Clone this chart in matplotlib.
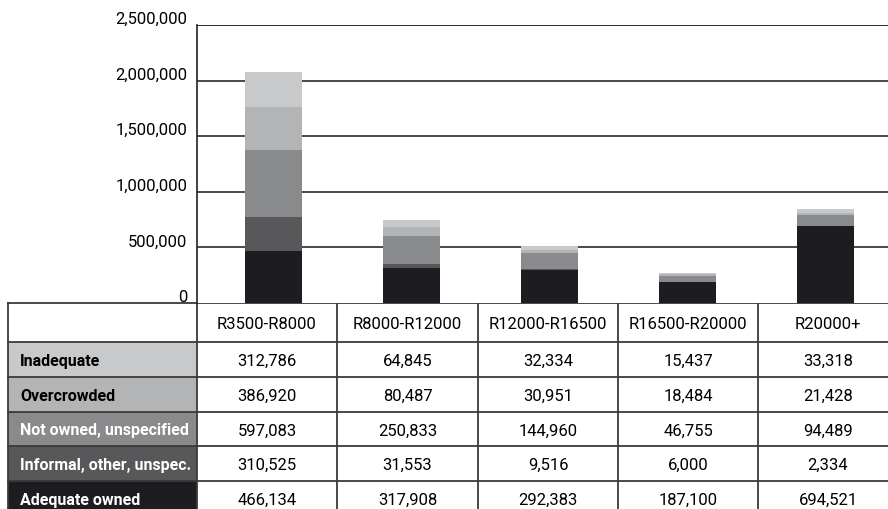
import numpy as np
import matplotlib.pyplot as plt
import matplotlib.transforms as mtransforms
from matplotlib.patches import Rectangle

plt.rcParams['font.family'] = ['Liberation Sans Narrow', 'Roboto', 'DejaVu Sans']

# income bands and housing categories
bands = ['R3500-R8000', 'R8000-R12000', 'R12000-R16500', 'R16500-R20000', 'R20000+']
inadequate = [312786, 64845, 32334, 15437, 33318]
overcrowded = [386920, 80487, 30951, 18484, 21428]
not_owned = [597083, 250833, 144960, 46755, 94489]
informal = [310525, 31553, 9516, 6000, 2334]
adequate_owned = [466134, 317908, 292383, 187100, 694521]

# stacking order, bottom first
series = [
    ('Adequate owned', adequate_owned, '#1d1c20', 'white'),
    ('Informal, other, unspec.', informal, '#58585a', 'white'),
    ('Not owned, unspecified', not_owned, '#898a8c', 'white'),
    ('Overcrowded', overcrowded, '#b3b4b6', 'black'),
    ('Inadequate', inadequate, '#c8c9cb', 'black'),
]
yticks = [0, 500000, 1000000, 1500000, 2000000, 2500000]

W, H = 888, 510
fig = plt.figure(figsize=(W / 100, H / 100), dpi=100)

# chart area
ax = fig.add_axes([197 / W, (H - 304) / H, (W - 197) / W, 278 / H])
x = np.arange(len(bands))
bottom = np.zeros(len(bands))
for name, vals, col, _ in series:
    ax.bar(x, vals, width=0.413, bottom=bottom, color=col, zorder=3)
    bottom += np.array(vals)
ax.set_xlim(-0.554, 4.453)
ax.set_ylim(0, 2500000)
ax.set_yticks(yticks)
ax.set_yticklabels([f'{v:,}' for v in yticks], fontsize=12)
ax.tick_params(axis='y', length=0, pad=7)
shift = mtransforms.ScaledTranslation(0, 2 / 100, fig.dpi_scale_trans)
for lbl in ax.get_yticklabels():
    lbl.set_verticalalignment('baseline')
    lbl.set_transform(lbl.get_transform() + shift)
ax.set_xticks([])
for v in yticks[1:]:
    ax.axhline(v, color='#1a1a1a' if v == 2500000 else '#3a3a3a', lw=1.3, zorder=1)
for s in ['top', 'right', 'bottom']:
    ax.spines[s].set_visible(False)
ax.spines['left'].set_color('#222222')
ax.spines['left'].set_linewidth(1.2)

# data table below the chart, drawn in pixel coordinates
tab = fig.add_axes([0, 0, 1, 1], zorder=-1)
tab.set_xlim(0, W)
tab.set_ylim(H, 0)
tab.axis('off')

col_edges = [8, 197, 337, 478, 618, 758, 898]
row_edges = [304, 343, 378, 413, 447, 482, 517]
rows = series[::-1]

for i, (name, vals, col, tcol) in enumerate(rows):
    y0, y1 = row_edges[i + 1], row_edges[i + 2]
    tab.add_patch(Rectangle((col_edges[0], y0), col_edges[1] - col_edges[0], y1 - y0,
                            facecolor=col, edgecolor='none'))
    tab.text(col_edges[0] + 12, (y0 + y1) / 2 + 1, name, color=tcol, fontsize=11.5,
             fontweight='bold', ha='left', va='center')
    for j, v in enumerate(vals):
        cx = (col_edges[j + 1] + col_edges[j + 2]) / 2
        tab.text(cx, (y0 + y1) / 2 + 1, f'{v:,}', fontsize=12, ha='center', va='center')

for j, b in enumerate(bands):
    cx = (col_edges[j + 1] + col_edges[j + 2]) / 2
    tab.text(cx, (row_edges[0] + row_edges[1]) / 2 + 1, b, fontsize=12,
             ha='center', va='center')

for y in row_edges:
    tab.plot([col_edges[0], W], [y, y], color='#3a3a3a', lw=1.3)
for xe in col_edges:
    tab.plot([xe, xe], [row_edges[0], H], color='#3a3a3a', lw=1.3)

fig.savefig('out.png', dpi=100)
